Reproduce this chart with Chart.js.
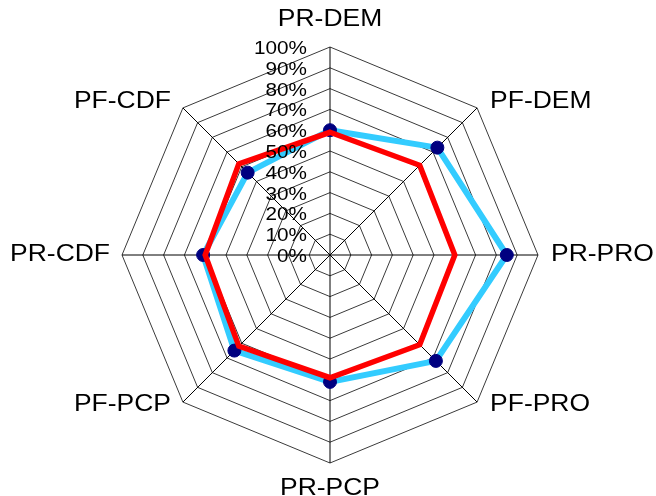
<!DOCTYPE html>
<html>
<head>
<meta charset="utf-8">
<script src="https://cdn.jsdelivr.net/npm/chart.js@4"></script>
<style>
    html, body { margin: 0; padding: 0; background: #fff; overflow: hidden; }
</style>
</head>
<body>
<canvas id="radarChart" width="656" height="496"></canvas>
<script>
// Chart data
const categories = ['PR-DEM', 'PF-DEM', 'PR-PRO', 'PF-PRO', 'PR-PCP', 'PF-PCP', 'PR-CDF', 'PF-CDF'];
const seriesBlue = [60, 73, 85, 72, 61, 65, 61, 56];
const seriesRed = [59, 61, 60, 61, 59, 62, 60, 62];
const tickValues = [0, 10, 20, 30, 40, 50, 60, 70, 80, 90, 100];

const FONT = '"Liberation Sans", Arial, sans-serif';
const STRETCH = 1.15;

// Draw horizontally stretched text (reference text is wider than plain Arial)
const drawText = (ctx, text, x, y, align, size) => {
    ctx.save();
    ctx.font = `${size}px ${FONT}`;
    ctx.fillStyle = '#000';
    ctx.textBaseline = 'middle';
    ctx.textAlign = align;
    ctx.translate(x, y);
    ctx.scale(STRETCH, 1);
    ctx.fillText(text, 0, 0);
    ctx.restore();
};

// Tick and point labels placed from the radial scale
const labelPlugin = {
    id: 'labelPlugin',
    afterDatasetsDraw(chart) {
        const scale = chart.scales.r;
        const ctx = chart.ctx;

        tickValues.forEach(v => {
            const y = scale.yCenter - scale.getDistanceFromCenterForValue(v) + 2;
            drawText(ctx, v + '%', scale.xCenter - 23, y, 'right', 18);
        });

        categories.forEach((label, i) => {
            const p = scale.getPointPosition(i, scale.drawingArea);
            const dx = p.x - scale.xCenter;
            const dy = p.y - scale.yCenter;
            let x = p.x, y = p.y, align = 'center';
            if (Math.abs(dx) < 1) {
                y += dy < 0 ? -27 : 26;
            } else {
                align = dx > 0 ? 'left' : 'right';
                x += dx > 0 ? 13 : -12;
                if (Math.abs(dy) > 1) y += dy < 0 ? -6 : 3;
            }
            drawText(ctx, label, x, y, align, 23);
        });
    }
};

const initializeChart = () => {
    const ctx = document.getElementById('radarChart').getContext('2d');
    new Chart(ctx, {
        type: 'radar',
        data: {
            labels: categories,
            datasets: [{
                data: seriesBlue,
                borderColor: '#33CCFF',
                borderWidth: 6,
                pointRadius: 6.5,
                pointBackgroundColor: '#000080',
                pointBorderColor: '#000080',
                pointBorderWidth: 1,
                fill: false,
                order: 1
            }, {
                data: seriesRed,
                borderColor: '#FF0000',
                borderWidth: 5.5,
                pointRadius: 0,
                fill: false,
                order: 0
            }]
        },
        options: {
            responsive: false,
            animation: false,
            devicePixelRatio: 1,
            layout: {
                padding: { top: 47, bottom: 33, left: 122, right: 118 }
            },
            plugins: {
                legend: { display: false },
                tooltip: { enabled: false }
            },
            elements: {
                line: { tension: 0, borderJoinStyle: 'miter' }
            },
            scales: {
                r: {
                    min: 0,
                    max: 100,
                    ticks: { stepSize: 10, display: false },
                    grid: { color: '#3a3a3a', lineWidth: 1 },
                    angleLines: { color: '#000', lineWidth: 1 },
                    pointLabels: { display: false }
                }
            }
        },
        plugins: [labelPlugin]
    });
};

document.addEventListener('DOMContentLoaded', initializeChart);
</script>
</body>
</html>
